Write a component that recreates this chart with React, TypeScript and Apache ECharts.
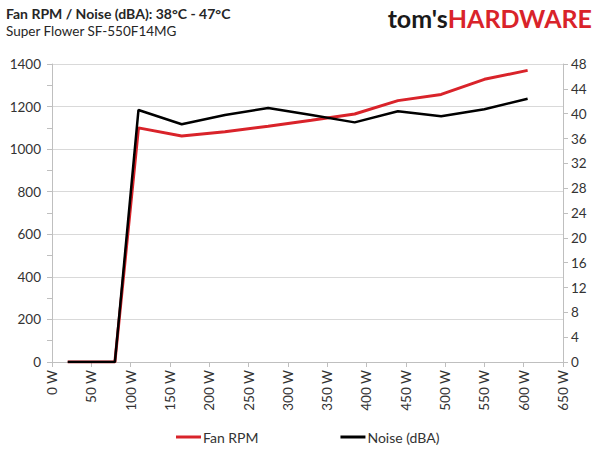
import { useEffect, useRef } from "react"
import * as echarts from "echarts"

const loadWatts = [20, 40, 60, 80, 110, 165, 220, 275, 330, 385, 440, 495, 550, 605]
const fanRpm = [0, 0, 0, 0, 1100, 1062, 1082, 1108, 1136, 1165, 1228, 1257, 1328, 1370]
const noiseDba = [0, 0, 0, 0, 40.6, 38.3, 39.8, 40.9, 39.8, 38.6, 40.4, 39.6, 40.7, 42.4]

const xTicks = { min: 0, max: 650, interval: 50 }
const rpmTicks = { min: 0, max: 1400, interval: 200 }
const dbaTicks = { min: 0, max: 48, interval: 4 }

const FONT = "Lato"
const RED = "#d9232a"
const AXIS_GRAY = "#bfbfbf"
const LABEL = "#333"

export default function App() {
  const chartRef = useRef<HTMLDivElement>(null)

  useEffect(() => {
    if (!chartRef.current) return
    const chart = echarts.init(chartRef.current, null, { renderer: "svg" })

    const option = {
      animation: false,
      textStyle: { fontFamily: FONT },
      graphic: [
        {
          type: "text",
          left: 6,
          top: 6,
          style: {
            text: "Fan RPM / Noise (dBA): 38°C - 47°C",
            font: `bold 14px ${FONT}`,
            fill: "#262626"
          }
        },
        {
          type: "text",
          left: 6,
          top: 24,
          style: {
            text: "Super Flower SF-550F14MG",
            font: `13.5px ${FONT}`,
            fill: "#262626"
          }
        },
        {
          type: "text",
          right: 8,
          top: 5,
          style: {
            text: "{a|tom's}{b|HARDWARE}",
            rich: {
              a: { fontFamily: FONT, fontWeight: "bold", fontSize: 25, fill: "#1a1a1a" },
              b: { fontFamily: FONT, fontWeight: "bold", fontSize: 25, fill: RED }
            }
          }
        }
      ],
      grid: { left: 52, right: 37, top: 64, bottom: 88 },
      legend: {
        left: 176,
        top: 430,
        padding: 0,
        itemGap: 82,
        itemWidth: 25,
        itemHeight: 3,
        icon: "rect",
        textStyle: { fontFamily: FONT, fontSize: 14, color: LABEL, padding: [0, 0, 0, -3] },
        data: ["Fan RPM", "Noise (dBA)"]
      },
      xAxis: {
        type: "value",
        ...xTicks,
        axisLine: { lineStyle: { color: AXIS_GRAY } },
        axisTick: { show: true, length: 5, lineStyle: { color: AXIS_GRAY } },
        splitLine: { show: false },
        axisLabel: {
          rotate: 90,
          margin: 8,
          fontSize: 13.5,
          color: LABEL,
          formatter: (v: number) => `${v} W`
        }
      },
      yAxis: [
        {
          type: "value",
          ...rpmTicks,
          position: "left",
          axisLine: { show: true, lineStyle: { color: AXIS_GRAY } },
          axisTick: { show: true, length: 5, lineStyle: { color: AXIS_GRAY } },
          minorTick: { show: true, splitNumber: 2, length: 5, lineStyle: { color: AXIS_GRAY } },
          splitLine: { lineStyle: { color: "#d9d9d9" } },
          axisLabel: { fontSize: 13.5, color: LABEL, margin: 11, formatter: (v: number) => String(v) }
        },
        {
          type: "value",
          ...dbaTicks,
          position: "right",
          axisLine: { show: true, lineStyle: { color: AXIS_GRAY } },
          axisTick: { show: true, length: 5, lineStyle: { color: AXIS_GRAY } },
          splitLine: { show: false },
          axisLabel: { fontSize: 13.5, color: LABEL, margin: 8 }
        }
      ],
      series: [
        {
          name: "Fan RPM",
          type: "line",
          yAxisIndex: 0,
          showSymbol: false,
          symbol: "none",
          itemStyle: { color: RED },
          lineStyle: { color: RED, width: 3 },
          data: loadWatts.map((w, i) => [w, fanRpm[i]])
        },
        {
          name: "Noise (dBA)",
          type: "line",
          yAxisIndex: 1,
          showSymbol: false,
          symbol: "none",
          itemStyle: { color: "#000" },
          lineStyle: { color: "#000", width: 2.5 },
          data: loadWatts.map((w, i) => [w, noiseDba[i]])
        }
      ]
    }

    chart.setOption(option)
    return () => chart.dispose()
  }, [])

  return (
    <div
      ref={chartRef}
      style={{ position: "fixed", left: 0, top: 0, width: 600, height: 450, background: "#fff" }}
    />
  )
}
